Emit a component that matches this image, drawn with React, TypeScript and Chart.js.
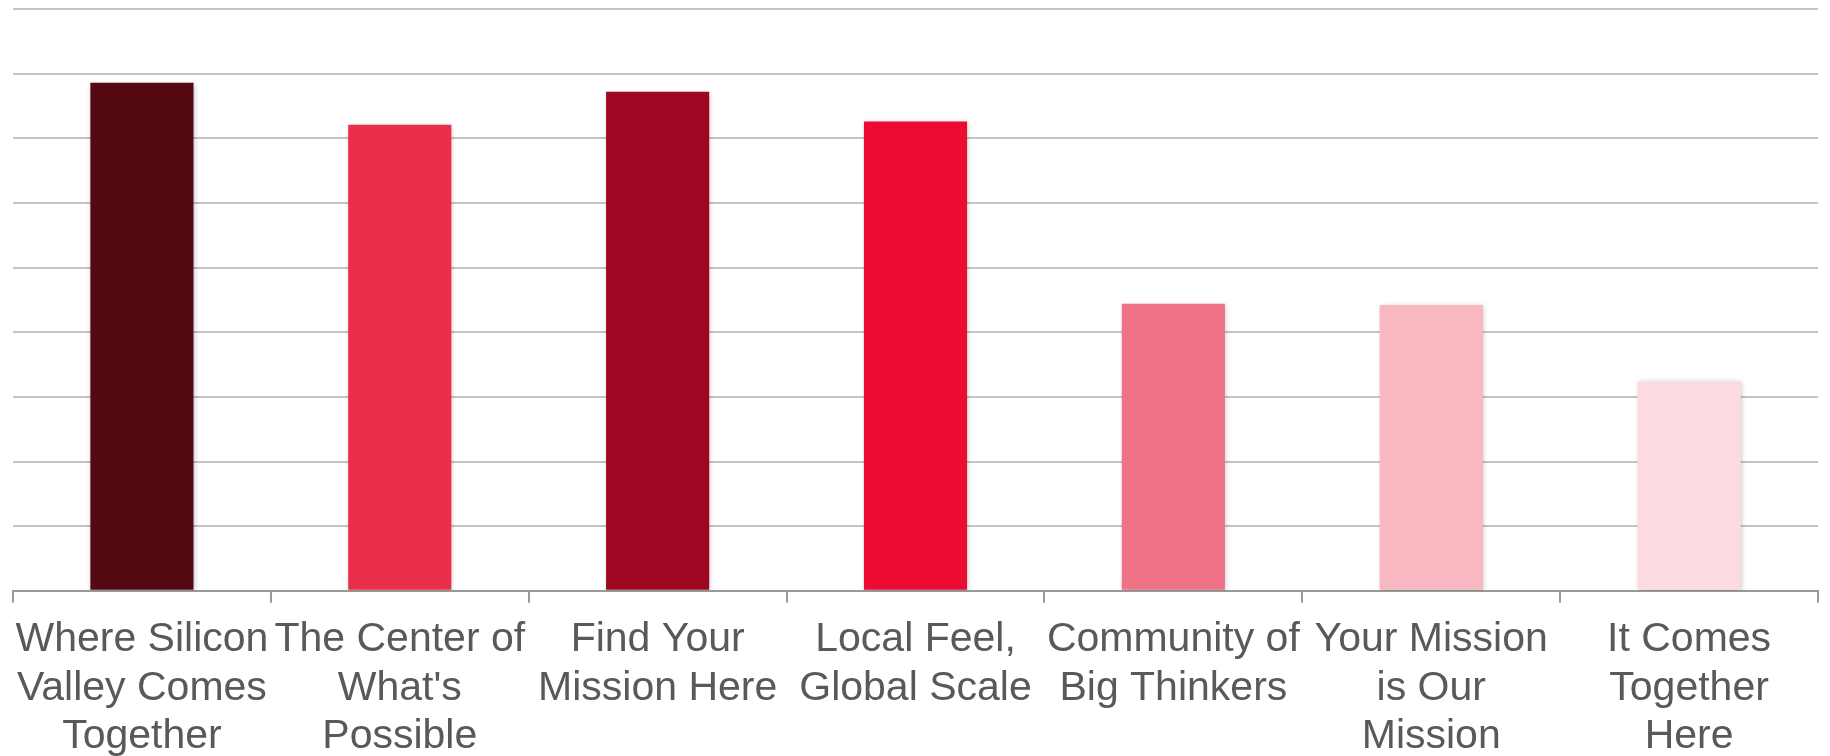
import React, { useEffect, useRef } from "react";
import { Chart, registerables } from "chart.js";

Chart.register(...registerables);

const categories: string[][] = [
  ["Where Silicon", "Valley Comes", "Together"],
  ["The Center of", "What's", "Possible"],
  ["Find Your", "Mission Here"],
  ["Local Feel,", "Global Scale"],
  ["Community of", "Big Thinkers"],
  ["Your Mission", "is Our", "Mission"],
  ["It Comes", "Together", "Here"],
];

const values: number[] = [7.86, 7.21, 7.72, 7.26, 4.44, 4.42, 3.24];

const barColors: string[] = [
  "#530812",
  "#EA2D49",
  "#9E0721",
  "#EC0C31",
  "#F07287",
  "#F8B7C1",
  "#FCDBE0",
];

const yMax = 9;
const yStep = 1;

const shadowPlugin = {
  id: "barShadow",
  beforeDatasetDraw(chart: any) {
    const ctx = chart.ctx;
    ctx.save();
    ctx.shadowColor = "rgba(0,0,0,0.22)";
    ctx.shadowBlur = 5;
    ctx.shadowOffsetX = 1;
    ctx.shadowOffsetY = 1;
  },
  afterDatasetDraw(chart: any) {
    chart.ctx.restore();
  },
};

export default function App() {
  const canvasRef = useRef<HTMLCanvasElement | null>(null);

  useEffect(() => {
    if (!canvasRef.current) return;
    const chart = new Chart(canvasRef.current, {
      type: "bar",
      data: {
        labels: categories,
        datasets: [
          {
            data: values,
            backgroundColor: barColors,
            borderWidth: 0,
            categoryPercentage: 0.8,
            barPercentage: 0.5,
          },
        ],
      },
      options: {
        animation: false,
        responsive: true,
        maintainAspectRatio: false,
        layout: { padding: { left: 13, right: 12, top: 9, bottom: 0 } },
        plugins: {
          legend: { display: false },
          tooltip: { enabled: false },
        },
        scales: {
          x: {
            offset: true,
            grid: {
              offset: true,
              drawOnChartArea: false,
              drawTicks: true,
              tickLength: 12,
              color: "#999999",
              lineWidth: 2,
            },
            border: { display: true, color: "#999999", width: 2 },
            ticks: {
              autoSkip: false,
              maxRotation: 0,
              minRotation: 0,
              padding: 13,
              color: "#595959",
              font: { family: "'Liberation Sans', Arial, sans-serif", size: 41, lineHeight: 1.18 },
            },
          },
          y: {
            min: 0,
            max: yMax,
            ticks: { display: false, stepSize: yStep },
            grid: { color: "#C4C4C4", lineWidth: 2, drawTicks: false },
            border: { display: false },
          },
        },
      },
      plugins: [shadowPlugin],
    });
    return () => chart.destroy();
  }, []);

  return (
    <div style={{ position: "fixed", left: 0, top: 0, width: 1830, height: 756, overflow: "hidden", background: "#fff" }}>
      <div style={{ position: "relative", width: 1830, height: 774 }}>
        <canvas ref={canvasRef} />
      </div>
    </div>
  );
}
